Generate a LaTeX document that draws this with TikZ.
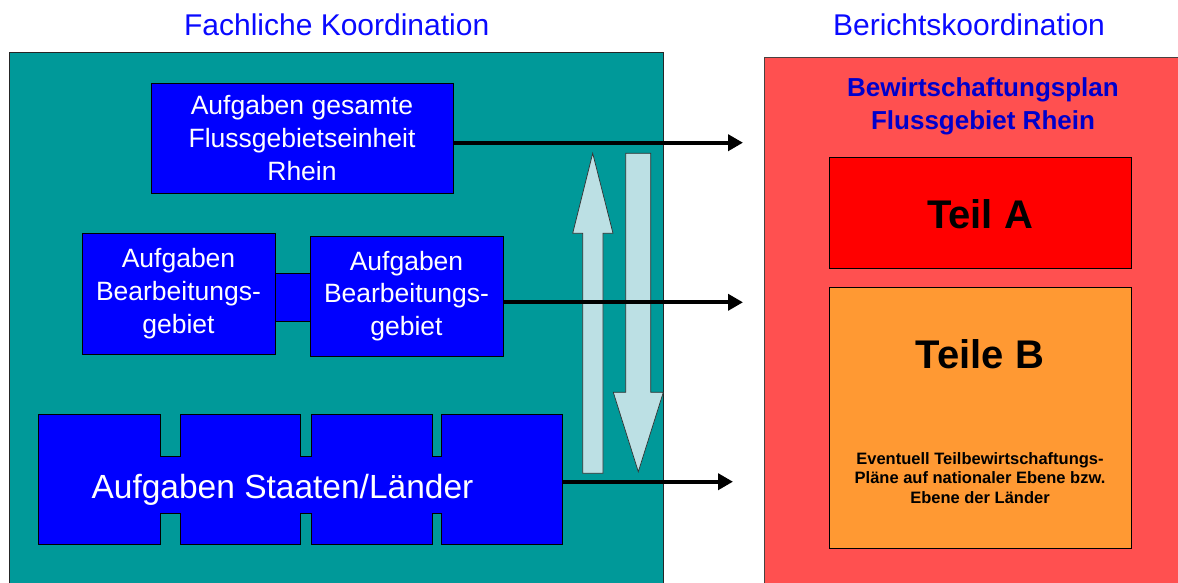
\documentclass[tikz,border=0pt]{standalone}
\usepackage{fontspec}
\setmainfont{Liberation Sans}
\usetikzlibrary{arrows.meta}
\definecolor{tealbg}{HTML}{009999}
\definecolor{redbg}{HTML}{FF5050}
\definecolor{boxblue}{HTML}{0000FF}
\definecolor{titleblue}{HTML}{0A0AFF}
\definecolor{planblue}{HTML}{0000CC}
\definecolor{teilA}{HTML}{FF0000}
\definecolor{teilB}{HTML}{FF9933}
\definecolor{bigarrow}{HTML}{BCE0E4}
\definecolor{framegray}{HTML}{4A4040}
\begin{document}
\begin{tikzpicture}[x=1pt,y=-1pt,
  title/.style={text=titleblue, inner sep=0pt, anchor=base, font=\fontsize{30}{36}\selectfont},
  frame/.style={inner sep=0pt, line width=0.8pt},
  bluebox/.style={draw=black, fill=boxblue, text=white, align=center, inner sep=0pt, line width=0.8pt, font=\fontsize{26.5}{32.7}\selectfont},
  teilbox/.style={draw=black, inner sep=0pt, line width=0.8pt, minimum width=302.7pt},
  bigtext/.style={inner sep=0pt, font=\fontsize{40}{48}\selectfont\bfseries},
  conn/.style={line width=4pt, -{Triangle[length=15pt,width=16pt]}},
  blockarrow/.style={fill=bigarrow, draw=black!80, line width=0.7pt, line join=miter},
  edge/.style={line width=0.8pt}
]
\useasboundingbox (0,0) rectangle (1178,582);
\fill[white] (0,0) rectangle (1178,582);

% titles
\node[title] (t1) at (336.7,35) {Fachliche Koordination};
\node[title] (t2) at (969,35) {Berichtskoordination};

% frames
\node[frame, draw=black!85, fill=tealbg, minimum width=654pt, minimum height=547pt] (fk) at (336,326.3) {};
\node[frame, draw=framegray, fill=redbg, minimum width=426pt, minimum height=543pt] (rb) at (977,328.5) {};

% box A
\node[bluebox, minimum width=302pt, minimum height=110pt] (a) at (302,138) {Aufgaben gesamte\\Flussgebietseinheit\\Rhein};

% Bearbeitungsgebiete
\node[fill=boxblue, inner sep=0pt, minimum width=35pt, minimum height=47pt] (bc) at (292.5,297.5) {};
\draw[edge] (bc.north west) -- (bc.north east) (bc.south west) -- (bc.south east);
\node[bluebox, minimum width=193pt, minimum height=121pt] (b1) at (178.5,293.5) {Aufgaben\\Bearbeitungs-\\gebiet};
\node[bluebox, minimum width=193pt, minimum height=120pt] (b2) at (406.5,296) {Aufgaben\\Bearbeitungs-\\gebiet};

% Staaten/Laender
\node[bluebox, minimum width=121.5pt, minimum height=130pt] (s1) at (99.6,479) {};
\node[bluebox, minimum width=120.7pt, minimum height=130pt] (s2) at (240.35,479) {};
\node[bluebox, minimum width=121.5pt, minimum height=130pt] (s3) at (371.75,479) {};
\node[bluebox, minimum width=120.7pt, minimum height=130pt] (s4) at (502.15,479) {};
\node[fill=boxblue, inner sep=0pt, minimum width=284pt, minimum height=56.4pt] (band) at (301.1,485) {};
\draw[edge] (s1.east |- band.north) -- (s2.west |- band.north)
            (s2.east |- band.north) -- (s3.west |- band.north)
            (s3.east |- band.north) -- (s4.west |- band.north)
            (s1.east |- band.south) -- (s2.west |- band.south)
            (s2.east |- band.south) -- (s3.west |- band.south)
            (s3.east |- band.south) -- (s4.west |- band.south);
\node[inner sep=0pt, anchor=base, text=white, font=\fontsize{33.5}{40}\selectfont] (st) at (282.5,498) {Aufgaben Staaten/Länder};

% block arrows
\draw[blockarrow] (592.7,153.3) -- (613,233.3) -- (603,233.3) -- (603,473.3) -- (582.7,473.3) -- (582.7,233.3) -- (572.7,233.3) -- cycle;
\draw[blockarrow] (625.7,153.3) -- (650.7,153.3) -- (650.7,392.3) -- (663.3,392.3) -- (638.3,471.7) -- (613.3,392.3) -- (625.7,392.3) -- cycle;

% right side
\node[inner sep=0pt, align=center, text=planblue, font=\fontsize{26}{33}\selectfont\bfseries] (plan) at (983,106) {Bewirtschaftungsplan\\Flussgebiet Rhein};
\node[teilbox, fill=teilA, minimum height=111pt] (ta) at (980.35,212.8) {};
\node[bigtext] (tat) at (980,214) {Teil A};
\node[teilbox, fill=teilB, minimum height=260.6pt] (tb) at (980.35,418) {};
\node[bigtext] (tbt) at (980,354) {Teile B};
\node[inner sep=0pt, align=center, font=\fontsize{16.5}{19.8}\selectfont\bfseries] (tbs) at (980,478) {Eventuell Teilbewirtschaftungs-\\Pläne auf nationaler Ebene bzw.\\Ebene der Länder};

% connectors
\coordinate (e1) at (743,142.7);
\coordinate (e2) at (743,302.3);
\coordinate (e3) at (733,481.7);
\draw[conn] (a.east |- e1) -- (e1);
\draw[conn] (b2.east |- e2) -- (e2);
\draw[conn] (s4.east |- e3) -- (e3);
\end{tikzpicture}
\end{document}
